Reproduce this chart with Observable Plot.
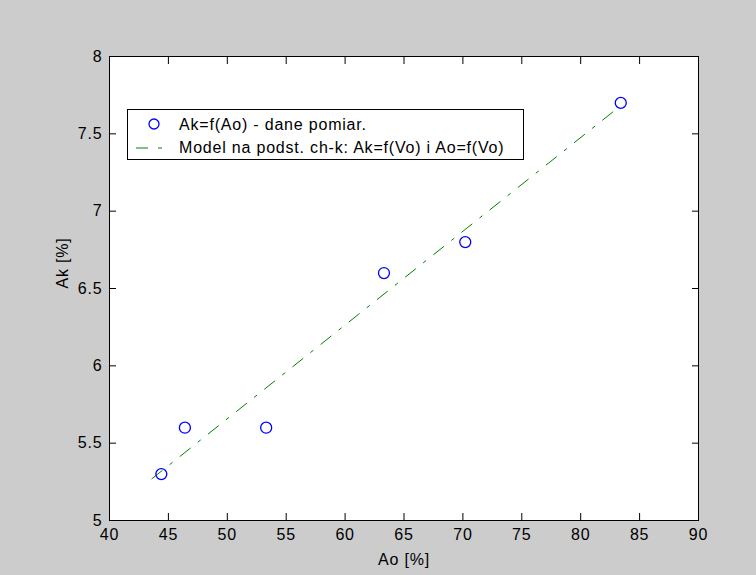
<!DOCTYPE html>
<html>
<head>
<meta charset="utf-8">
<script src="https://cdn.jsdelivr.net/npm/d3@7"></script>
<script src="https://cdn.jsdelivr.net/npm/@observablehq/plot@0.6"></script>
<style>
  html, body { margin: 0; padding: 0; background: #cccccc; }
  #wrap { position: relative; width: 756px; height: 575px; }
  #legend { position: absolute; left: 127px; top: 109px; width: 395px; height: 49px;
    background: white; border: 1px solid black; font-family: "Liberation Sans", Arial, sans-serif;
    font-size: 16px; letter-spacing: 0.8px; color: black; }
  #legend svg { position: absolute; left: 0; top: 0; }
</style>
</head>
<body>
<div id="wrap"></div>
<script>
// Measured data: Ak=f(Ao)
const measAo = [44.4, 46.4, 53.3, 63.3, 70.2, 83.4];
const measAk = [5.3, 5.6, 5.6, 6.6, 6.8, 7.7];
// Model line
const modelAo = [43.6, 83.2];
const modelAk = [5.27, 7.67];
// Ticks
const xTicks = [40, 45, 50, 55, 60, 65, 70, 75, 80, 85, 90];
const yTicks = [5, 5.5, 6, 6.5, 7, 7.5, 8];
const xLabel = "Ao [%]";
const yLabel = "Ak [%]";
const legendLabels = ["Ak=f(Ao) - dane pomiar.", "Model na podst. ch-k: Ak=f(Vo) i Ao=f(Vo)"];

const meas = measAo.map((x, i) => ({x, y: measAk[i]}));
const model = modelAo.map((x, i) => ({x, y: modelAk[i]}));
const fmt = d => String(d);

const chart = Plot.plot({
  width: 756, height: 575,
  marginLeft: 109, marginRight: 58, marginTop: 56, marginBottom: 55,
  style: {background: "#cccccc", fontFamily: "Liberation Sans, Arial, sans-serif", fontSize: "16px", color: "black", letterSpacing: "0.8px"},
  x: {domain: [40, 90], ticks: xTicks},
  y: {domain: [5, 8], ticks: yTicks},
  marks: [
    Plot.frame({fill: "white"}),
    Plot.axisX(xTicks, {anchor: "bottom", tickSize: 7, dy: -7, tickFormat: () => "", label: null}),
    Plot.axisX(xTicks, {anchor: "top", tickSize: 7, dy: 7, tickFormat: () => "", label: null}),
    Plot.axisY(yTicks, {anchor: "left", tickSize: 7, dx: 7, tickFormat: () => "", label: null}),
    Plot.axisY(yTicks, {anchor: "right", tickSize: 7, dx: -7, tickFormat: () => "", label: null}),
    Plot.axisX(xTicks, {anchor: "bottom", tickSize: 0, tickPadding: 8, tickFormat: fmt, label: null}),
    Plot.axisY(yTicks, {anchor: "left", tickSize: 0, tickPadding: 7, tickFormat: fmt, label: null}),
    Plot.frame({stroke: "black"}),
    Plot.line(model, {x: "x", y: "y", stroke: "#008000", strokeWidth: 1, strokeDasharray: "13,10,3,10"}),
    Plot.dot(meas, {x: "x", y: "y", r: 5.5, stroke: "#0000ff", strokeWidth: 1.3, fill: "none"}),
    Plot.text([xLabel], {frameAnchor: "bottom", dy: 39, text: d => d, lineAnchor: "middle"}),
    Plot.text([yLabel], {frameAnchor: "left", dx: -47, rotate: -90, text: d => d, lineAnchor: "middle"})
  ]
});

const wrap = document.getElementById("wrap");
wrap.appendChild(chart);

const legend = document.createElement("div");
legend.id = "legend";
legend.innerHTML = `
<svg width="395" height="49">
  <circle cx="26" cy="14" r="5" fill="none" stroke="#0000ff" stroke-width="1.3"/>
  <line x1="8" y1="38" x2="34" y2="38" stroke="#008000" stroke-width="1" stroke-dasharray="12,10,4,10"/>
  <text x="51" y="14" dominant-baseline="central" font-family="Liberation Sans, Arial, sans-serif" font-size="16" letter-spacing="0.8">${legendLabels[0]}</text>
  <text x="51" y="37" dominant-baseline="central" font-family="Liberation Sans, Arial, sans-serif" font-size="16" letter-spacing="0.8">${legendLabels[1]}</text>
</svg>`;
wrap.appendChild(legend);
</script>
</body>
</html>
